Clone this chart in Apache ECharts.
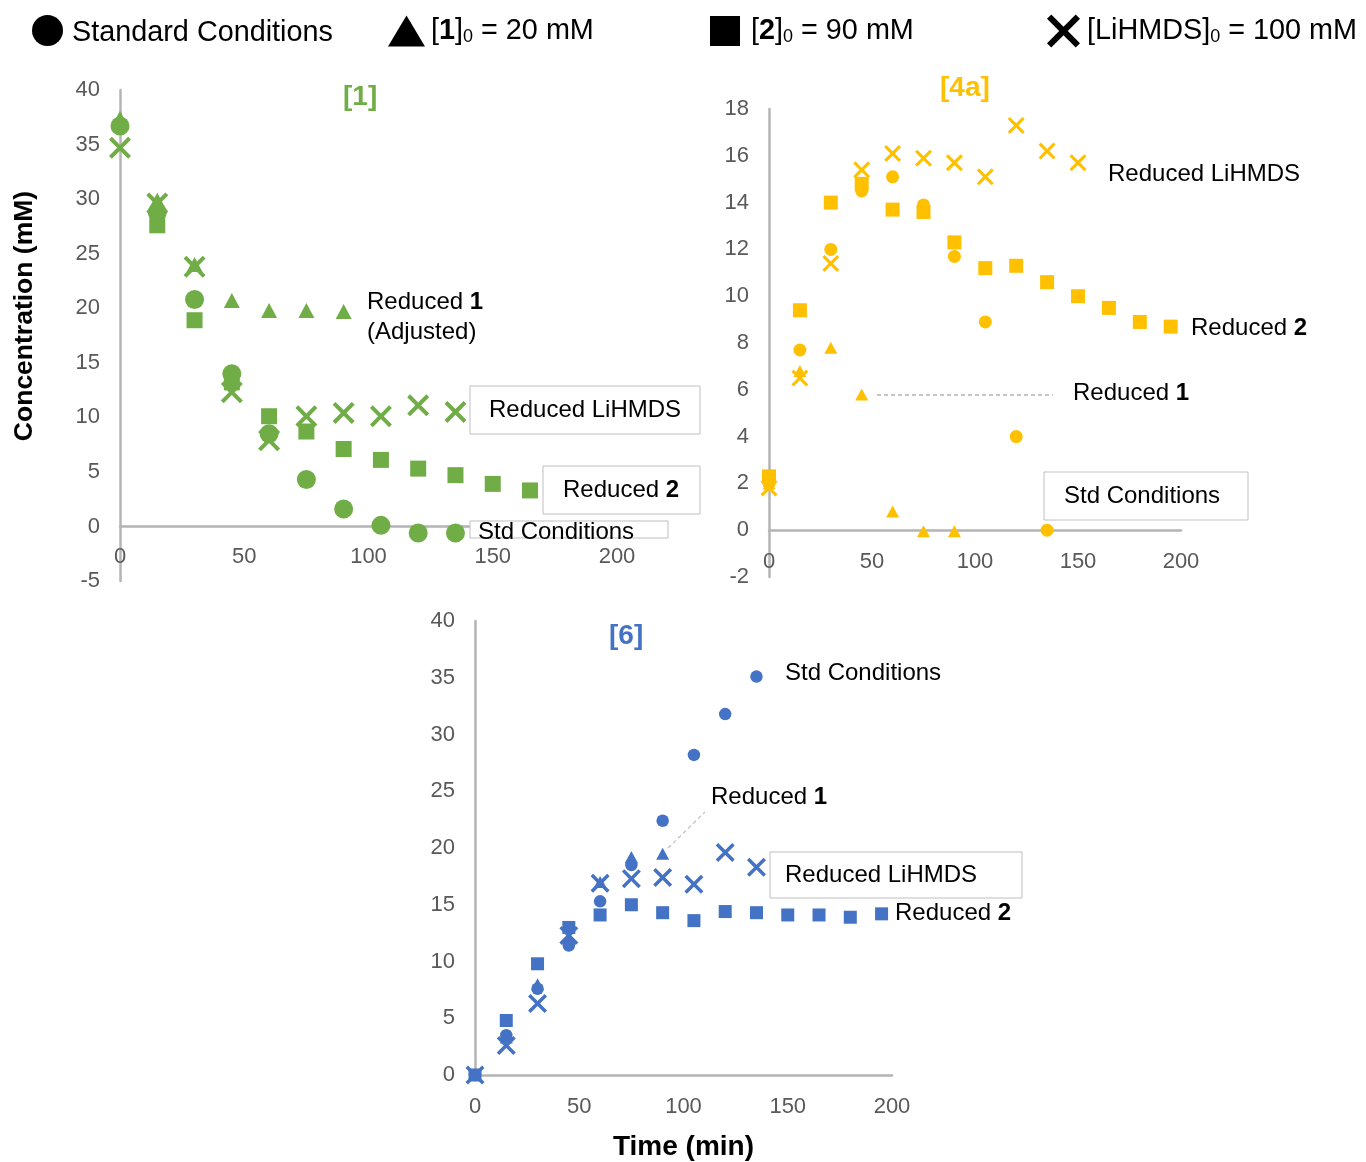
<!DOCTYPE html>
<html>
<head>
<meta charset="utf-8">
<script src="https://cdn.jsdelivr.net/npm/echarts@6/dist/echarts.min.js"></script>
<style>
  html, body { margin: 0; padding: 0; background: #fff; }
  #chart { width: 1366px; height: 1162px; }
</style>
</head>
<body>
<div id="chart"></div>
<script>
// Sampling times (min)
const TIME = [0, 15, 30, 45, 60, 75, 90, 105, 120, 135, 150, 165, 180, 195];

// Series names (shared by the three panels)
const NAMES = ['Standard Conditions', '[1]0 = 20 mM', '[2]0 = 90 mM', '[LiHMDS]0 = 100 mM'];

// Panel [1] concentrations (mM); null = no visible reading
const p1Std = [36.7, 28.8, 20.8, 14.0, 8.5, 4.3, 1.6, 0.1, -0.6, -0.6];
const p1R1  = [37.4, 29.9, 24.0, 20.7, 19.8, 19.8, 19.7];
const p1R2  = [null, 27.6, 18.9, 13.2, 10.1, 8.7, 7.1, 6.1, 5.3, 4.7, 3.9, 3.3];
const p1RL  = [34.7, 29.6, 23.8, 12.3, 7.9, 10.1, 10.4, 10.1, 11.1, 10.5];

// Panel [4a] concentrations (mM)
const p2Std = [2.0, 7.7, 12.0, 14.5, 15.1, 13.9, 11.7, 8.9, 4.0, 0.0];
const p2R1  = [2.0, 6.8, 7.8, 5.8, 0.8, -0.05, -0.05];
const p2R2  = [2.3, 9.4, 14.0, 14.8, 13.7, 13.6, 12.3, 11.2, 11.3, 10.6, 10.0, 9.5, 8.9, 8.7];
const p2RL  = [1.8, 6.5, 11.4, 15.4, 16.1, 15.9, 15.7, 15.1, 17.3, 16.2, 15.7];

// Panel [6] concentrations (mM)
const p3Std = [0, 3.5, 7.6, 11.4, 15.3, 18.5, 22.4, 28.2, 31.8, 35.1];
const p3R1  = [0, 3.3, 8.0, 12.0, 17.0, 19.2, 19.5];
const p3R2  = [0, 4.8, 9.8, 13.0, 14.1, 15.0, 14.3, 13.6, 14.4, 14.3, 14.1, 14.1, 13.9, 14.2];
const p3RL  = [0, 2.6, 6.3, 12.3, 16.9, 17.3, 17.4, 16.8, 19.6, 18.3];

const GREEN = '#70AD47', GOLD = '#FFC000', BLUE = '#4472C4';
const FONT = "'Liberation Sans', Arial, sans-serif";
const CROSS = 'path://M1.3,0 L5,3.7 L8.7,0 L10,1.3 L6.3,5 L10,8.7 L8.7,10 L5,6.3 L1.3,10 L0,8.7 L3.7,5 L0,1.3 Z';
const SYMBOLS = ['circle', 'triangle', 'rect', CROSS];
// stacking order of the marker types (squares lowest, circles on top)
const ZORDER = [6, 5, 3, 4];

const pts = vals => vals.map((v, i) => [TIME[i], v]).filter(p => p[1] !== null);

// xShift lifts the time axis from the grid bottom up to the zero line
const panels = [
  { data: [p1Std, p1R1, p1R2, p1RL], color: GREEN, sizes: [19, [16, 15], 16, 22],
    grid: { left: 120, top: 90, width: 497, height: 491 }, y: [-5, 40, 5], margin: 20, xShift: -55 },
  { data: [p2Std, p2R1, p2R2, p2RL], color: GOLD, sizes: [13, [13, 12], 14, 17],
    grid: { left: 769, top: 109, width: 412, height: 468 }, y: [-2, 18, 2], margin: 21, xShift: -47 },
  { data: [p3Std, p3R1, p3R2, p3RL], color: BLUE, sizes: [12.5, [13, 12], 13, 19],
    grid: { left: 475, top: 621, width: 417, height: 454 }, y: [0, 40, 5], margin: 21, xShift: 0 }
];

const axisLine = { show: true, onZero: false, lineStyle: { color: '#B4B4B4', width: 2.5 } };
const tickLabel = { color: '#595959', fontSize: 22, fontFamily: FONT };

const grids = [], xAxes = [], yAxes = [], series = [];
panels.forEach((p, gi) => {
  grids.push(p.grid);
  xAxes.push({
    type: 'value', gridIndex: gi, min: 0, max: 200, interval: 50, position: 'bottom', offset: p.xShift,
    axisLine, axisTick: { show: false }, splitLine: { show: false },
    axisLabel: Object.assign({ margin: p.margin }, tickLabel),
    name: gi === 2 ? 'Time (min)' : '', nameLocation: 'middle', nameGap: 58,
    nameTextStyle: { fontSize: 28, fontWeight: 'bold', color: '#000', fontFamily: FONT }
  });
  yAxes.push({
    type: 'value', gridIndex: gi, min: p.y[0], max: p.y[1], interval: p.y[2],
    axisLine, axisTick: { show: false }, splitLine: { show: false },
    axisLabel: Object.assign({ margin: 20 }, tickLabel)
  });
  p.data.forEach((vals, si) => {
    series.push({
      type: 'scatter', name: NAMES[si], xAxisIndex: gi, yAxisIndex: gi,
      symbol: SYMBOLS[si], symbolSize: p.sizes[si],
      itemStyle: { color: p.color, opacity: 1 },
      emphasis: { disabled: true },
      data: pts(vals), z: ZORDER[si]
    });
  });
});

// Legend text with bold compound numbers and subscript zeros
const LEGEND_TEXT = {
  'Standard Conditions': 'Standard Conditions',
  '[1]0 = 20 mM': '[{b|1}]{s|0} = 20 mM',
  '[2]0 = 90 mM': '[{b|2}]{s|0} = 90 mM',
  '[LiHMDS]0 = 100 mM': '[LiHMDS]{s|0} = 100 mM'
};
const LEG = 28.8;
const legendRich = {
  b: { fontSize: LEG, fontWeight: 'bold', color: '#000', fontFamily: FONT },
  s: { fontSize: 18, color: '#000', fontFamily: FONT, verticalAlign: 'top', padding: [13, 0, 0, 0] }
};
const legendDefs = [
  { name: NAMES[0], left: 32, icon: 'circle', w: 31, h: 32, pad: [5, 0, 0, 4] },
  { name: NAMES[1], left: 388, icon: 'triangle', w: 37, h: 31, pad: [0, 0, 0, 1] },
  { name: NAMES[2], left: 710, icon: 'rect', w: 30, h: 30, pad: [0, 0, 0, 6] },
  { name: NAMES[3], left: 1047, icon: CROSS, w: 33, h: 33, pad: [0, 0, 0, 2] }
];
const legends = legendDefs.map(d => ({
  data: [d.name], left: d.left, top: 31 - d.h / 2, padding: 0,
  icon: d.icon, itemWidth: d.w, itemHeight: d.h, symbolKeepAspect: false,
  selectedMode: false,
  itemStyle: { color: '#000', borderWidth: 0 },
  formatter: n => LEGEND_TEXT[n],
  textStyle: { fontSize: LEG, color: '#000', fontFamily: FONT, padding: d.pad, rich: legendRich }
}));

// Annotation helpers
const ANNO = 24;
const richBold = { b: { fontSize: ANNO, fontWeight: 'bold', fill: '#000', fontFamily: FONT } };
const label = (x, y, text) => ({
  type: 'text', x, y, z: 100,
  style: { text, fill: '#000', fontSize: ANNO, fontFamily: FONT, verticalAlign: 'middle', align: 'left', rich: richBold }
});
const box = (x, y, w, h) => ({
  type: 'rect', z: 99, shape: { x, y, width: w, height: h },
  style: { fill: '#fff', stroke: '#BFBFBF', lineWidth: 1 }
});
const leader = (x1, y1, x2, y2, color) => ({
  type: 'line', z: 99, shape: { x1, y1, x2, y2 },
  style: { stroke: color, lineWidth: 1.2, lineDash: [4, 3] }
});

const graphics = [
  // y axis title
  { type: 'text', x: 25, y: 316, rotation: Math.PI / 2, z: 100,
    style: { text: 'Concentration (mM)', fill: '#000', fontSize: 26.5, fontWeight: 'bold', fontFamily: FONT,
             align: 'center', verticalAlign: 'middle' } },
  // panel [1]
  label(367, 302, 'Reduced {b|1}'),
  label(367, 332, '(Adjusted)'),
  box(470, 386, 230, 48), label(489, 410, 'Reduced LiHMDS'),
  box(543, 466, 157, 48), label(563, 490, 'Reduced {b|2}'),
  box(470, 521, 198, 17), label(478, 532, 'Std Conditions'),
  // panel [4a]
  label(1108, 174, 'Reduced LiHMDS'),
  label(1191, 328, 'Reduced {b|2}'),
  leader(877, 395, 1053, 395, '#8C8C8C'),
  label(1073, 393, 'Reduced {b|1}'),
  box(1044, 472, 204, 48), label(1064, 496, 'Std Conditions'),
  // panel [6]
  label(785, 673, 'Std Conditions'),
  leader(668, 848, 705, 812, '#BFBFBF'),
  label(711, 797, 'Reduced {b|1}'),
  box(770, 852, 252, 46), label(785, 875, 'Reduced LiHMDS'),
  label(895, 913, 'Reduced {b|2}')
];

const titleStyle = c => ({ color: c, fontSize: 28, fontWeight: 'bold', fontFamily: FONT });
const option = {
  backgroundColor: '#fff',
  animation: false,
  title: [
    { text: '[1]', left: 343, top: 83, padding: 0, textStyle: titleStyle(GREEN) },
    { text: '[4a]', left: 940, top: 74, padding: 0, textStyle: titleStyle(GOLD) },
    { text: '[6]', left: 609, top: 622, padding: 0, textStyle: titleStyle(BLUE) }
  ],
  legend: legends,
  grid: grids,
  xAxis: xAxes,
  yAxis: yAxes,
  series,
  graphic: graphics
};

const chart = echarts.init(document.getElementById('chart'), null, { renderer: 'canvas' });
chart.setOption(option);
</script>
</body>
</html>
